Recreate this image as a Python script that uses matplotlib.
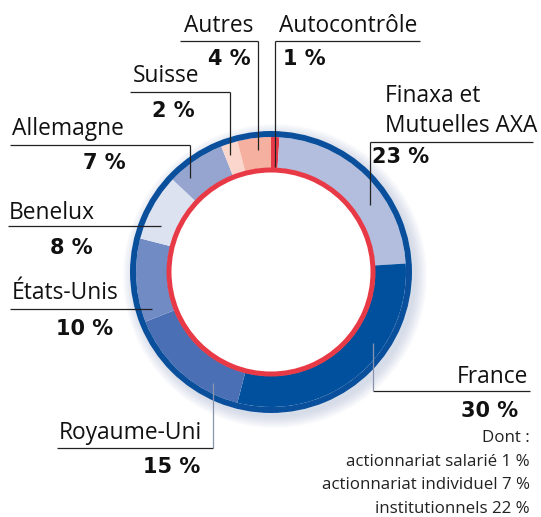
import matplotlib
matplotlib.use("Agg")
import matplotlib.pyplot as plt
from matplotlib.patches import Wedge, Circle

# ---- data ----
categories = ["Autocontrôle", "Finaxa et\nMutuelles AXA", "France", "Royaume-Uni",
              "États-Unis", "Benelux", "Allemagne", "Suisse", "Autres"]
values = [1, 23, 30, 15, 10, 8, 7, 2, 4]
colors = ["#e83a46", "#b3bedf", "#00509e", "#4a6fb4", "#718bc4",
          "#dde2f0", "#96a5d0", "#fad6cc", "#f6b0a0"]
france_detail = ["Dont :", "actionnariat salarié 1 %",
                 "actionnariat individuel 7 %", "institutionnels 22 %"]

W, H = 541, 517
fig = plt.figure(figsize=(W / 100, H / 100), dpi=100)
ax = fig.add_axes([0, 0, 1, 1])

def Y(y):
    return H - y

cx, cy = 271, Y(272)

# soft shadow (lower right)
for k in range(12):
    ax.add_patch(Circle((cx + 4, cy - 4), 141 + k, color="#aab6d2",
                        alpha=0.045, lw=0, zorder=0))
ax.add_patch(Circle((cx, cy), 141, color="white", lw=0, zorder=0.5))

ax.pie(values, colors=colors, startangle=90, counterclock=False,
       center=(cx, cy), radius=135, frame=True,
       wedgeprops=dict(width=31, edgecolor="none", linewidth=0))
ax.set_xlim(0, W)
ax.set_ylim(0, H)
ax.set_aspect("auto")
ax.axis("off")

ax.add_patch(Wedge((cx, cy), 141, 0, 360, width=6, color="#0a4f9c", lw=0, zorder=3))
ax.add_patch(Wedge((cx, cy), 104.5, 0, 360, width=5, color="#e83a46", lw=0, zorder=3))

LBL = dict(family="Open Sans", fontsize=16.4, color="#111111")
PCT = dict(family="DejaVu Sans", fontweight="bold", fontsize=15, color="#111111")
lw = 0.9
lc = "#222222"

def hline(x0, x1, y):
    ax.plot([x0, x1], [Y(y), Y(y)], color=lc, lw=lw, zorder=5, solid_capstyle="butt")

def vline(x, y0, y1, c=lc):
    ax.plot([x, x], [Y(y0), Y(y1)], color=c, lw=lw, zorder=5, solid_capstyle="butt")

pct = [f"{v} %" for v in values]

# Autocontrôle
ax.text(279, Y(32), categories[0], ha="left", va="baseline", **LBL)
hline(275, 420, 40.5); vline(275, 40.5, 167)
ax.text(283, Y(65), pct[0], ha="left", va="baseline", **PCT)

# Autres
ax.text(184, Y(32), categories[8], ha="left", va="baseline", **LBL)
hline(180, 257.5, 40.5); vline(257.5, 40.5, 150)
ax.text(251, Y(65), pct[8], ha="right", va="baseline", **PCT)

# Suisse
ax.text(133, Y(82), categories[7], ha="left", va="baseline", **LBL)
hline(130, 230, 92); vline(230, 92, 155)
ax.text(195, Y(117), pct[7], ha="right", va="baseline", **PCT)

# Allemagne
ax.text(12, Y(135), categories[6], ha="left", va="baseline", **LBL)
hline(10, 190, 144.5); vline(190, 144.5, 178)
ax.text(126, Y(169), pct[6], ha="right", va="baseline", **PCT)

# Benelux
ax.text(9, Y(219), categories[5], ha="left", va="baseline", **LBL)
hline(8, 161, 226)
ax.text(93, Y(254), pct[5], ha="right", va="baseline", **PCT)

# États-Unis
ax.text(12, Y(299), categories[4], ha="left", va="baseline", **LBL)
hline(10, 152, 309)
ax.text(113, Y(335), pct[4], ha="right", va="baseline", **PCT)

# Royaume-Uni
ax.text(59, Y(439), categories[3], ha="left", va="baseline", **LBL)
hline(57, 213, 448); vline(213, 448, 383, c="#8a94ac")
ax.text(200, Y(473), pct[3], ha="right", va="baseline", **PCT)

# France
ax.text(528, Y(383), categories[2], ha="right", va="baseline", **LBL)
hline(373, 530, 391); vline(373, 391, 343, c="#8a94ac")
ax.text(518, Y(417), pct[2], ha="right", va="baseline", **PCT)
for i, line in enumerate(france_detail):
    ax.text(530, Y(442 + i * 23.7), line, ha="right", va="baseline",
            family="Open Sans", fontsize=12.2, color="#222222")

# Finaxa
fin_lines = categories[1].split("\n")
ax.text(385, Y(102), fin_lines[0], ha="left", va="baseline", **LBL)
ax.text(385, Y(132), fin_lines[1], ha="left", va="baseline", **LBL)
hline(370, 533, 142); vline(370, 142, 205)
ax.text(372, Y(163), pct[1], ha="left", va="baseline", **PCT)

fig.savefig("out.png", dpi=100)
